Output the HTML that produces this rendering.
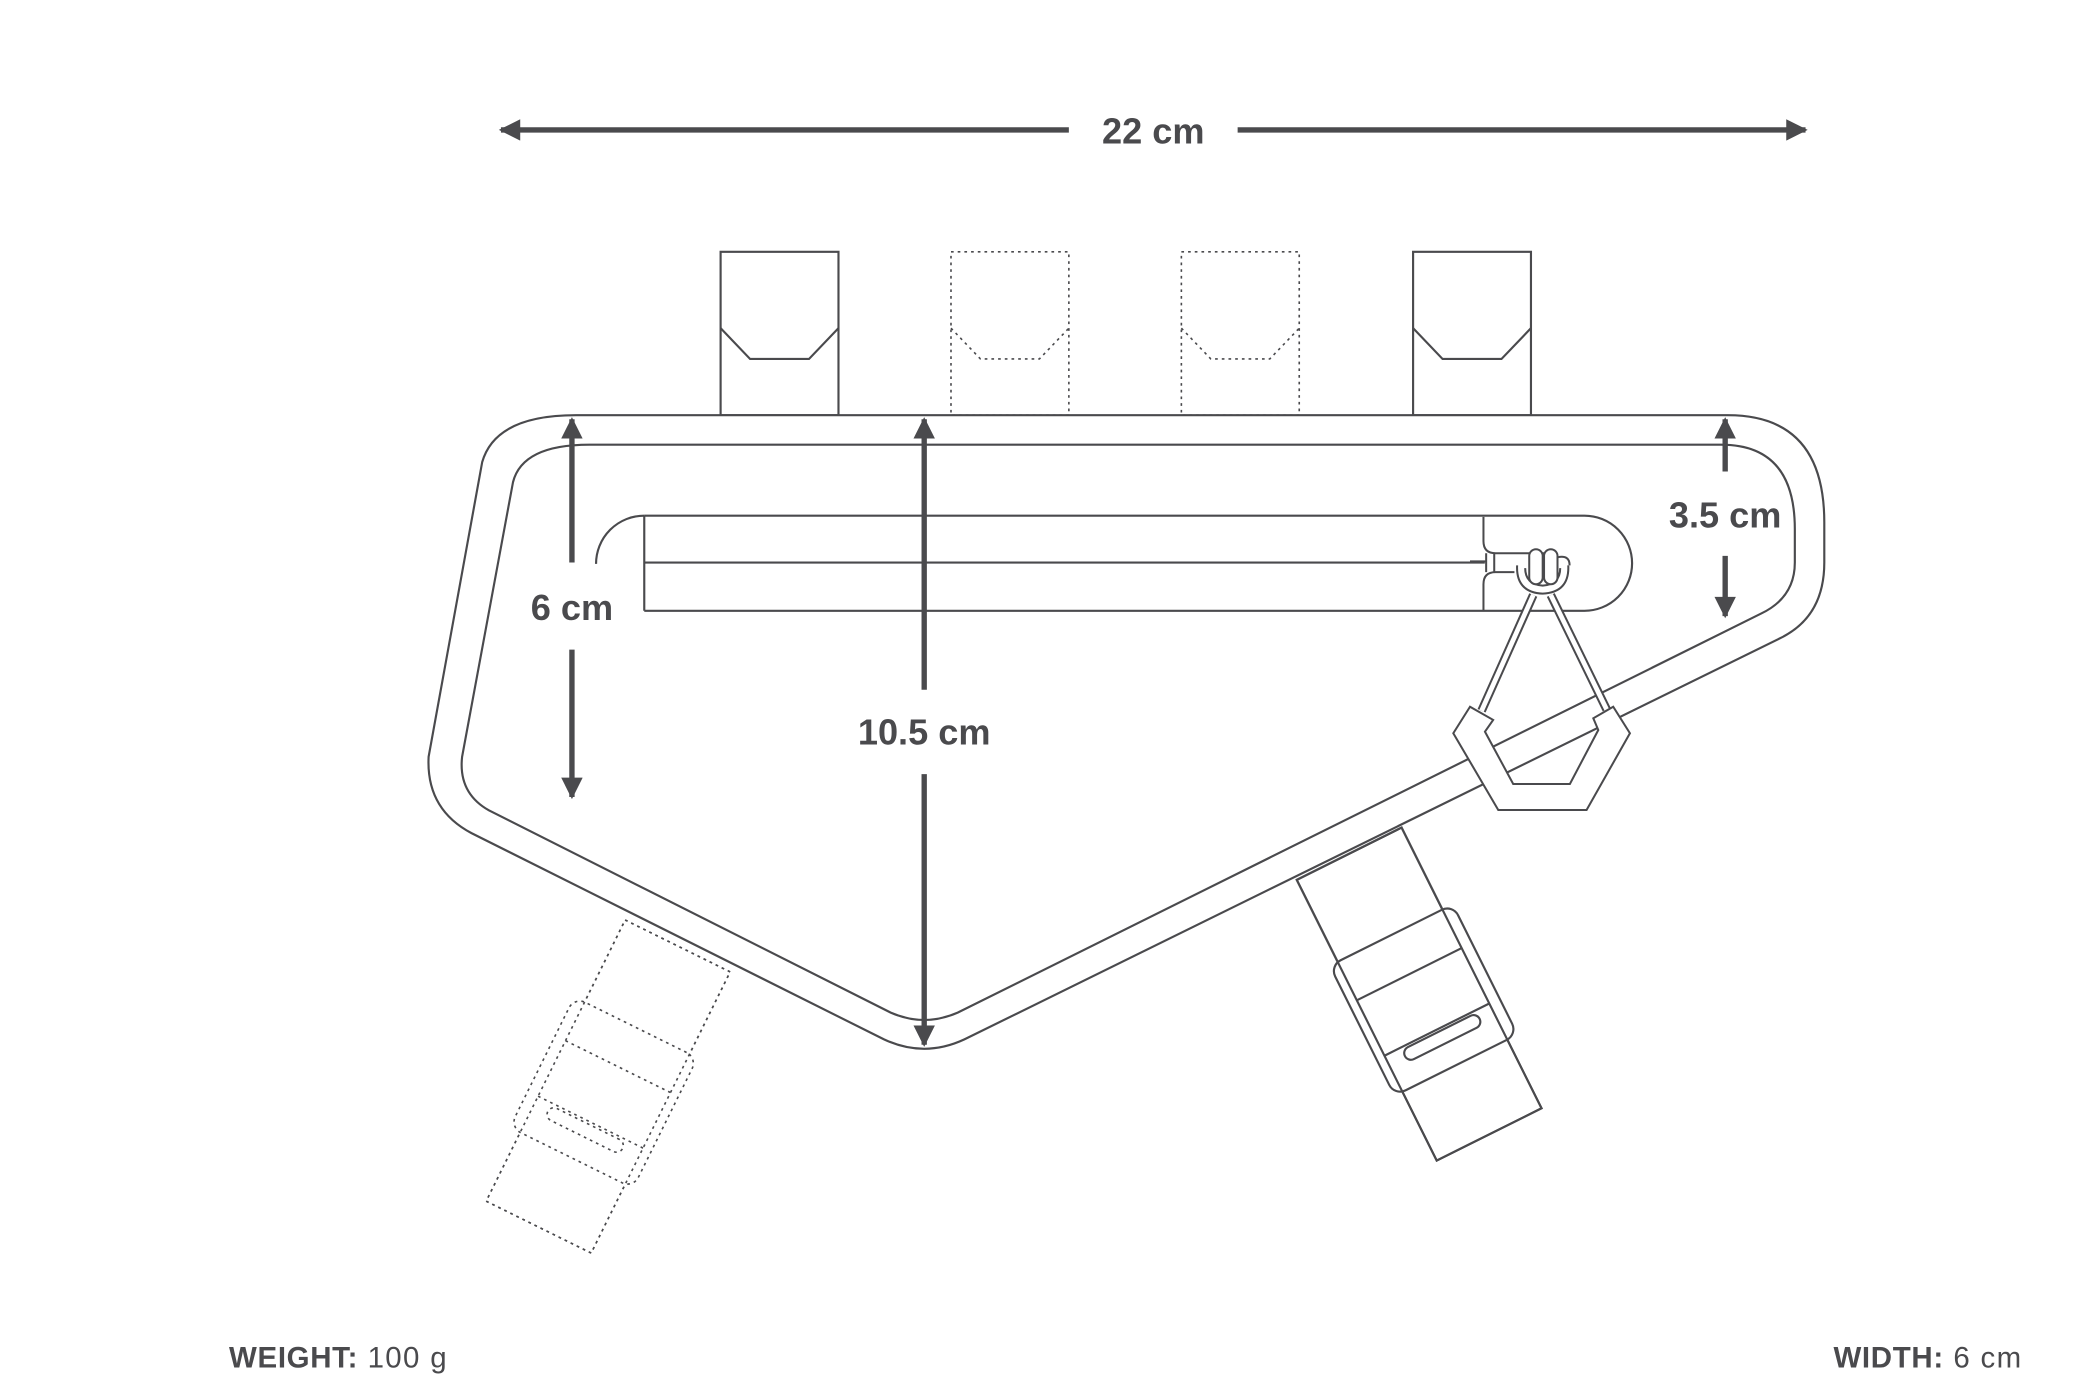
<!DOCTYPE html>
<html><head><meta charset="utf-8"><style>
html,body{margin:0;padding:0;background:#fff;}
svg{display:block;}
</style></head><body>
<svg width="2100" height="1400" viewBox="0 0 1560 1040" xmlns="http://www.w3.org/2000/svg">
<defs>
<marker id="ah" viewBox="0 0 10 10" refX="9" refY="5" markerWidth="5" markerHeight="4" orient="auto-start-reverse" markerUnits="strokeWidth">
<path d="M0,0 L10,5 L0,10 Z" fill="#4a4a4d"/></marker>
<g id="strapR">
<rect x="-43.5" y="-116" width="87" height="233" fill="#fff"/>
<rect x="-50" y="-48" width="102" height="108" rx="9" fill="#fff"/>
<rect x="-43.5" y="-116" width="87" height="233" fill="none"/>
<line x1="-43.5" y1="-16" x2="43.5" y2="-16"/>
<line x1="-43.5" y1="30" x2="43.5" y2="30"/>
<rect x="-30" y="32" width="62" height="10" rx="5" fill="#fff"/>
</g>
</defs>
<g fill="none" stroke="#4a4a4d" stroke-width="1.6">
<g transform="translate(452,806.7) rotate(26.3) scale(-1,1)" stroke-dasharray="2 3" stroke-width="1.2">
<use href="#strapR"/>
</g>
<g transform="translate(1054,738) rotate(-26.5)">
<use href="#strapR"/>
</g>
</g>
<g transform="scale(0.995)">
<g fill="none" stroke="#4a4a4d" stroke-width="1.6">
<rect x="538" y="188" width="88" height="122"/>
<path d="M538,245 L560,268 L604,268 L626,245"/>
<rect x="1055" y="188" width="88" height="122"/>
<path d="M1055,245 L1077,268 L1121,268 L1143,245"/>
<g stroke-dasharray="2 3" stroke-width="1.2">
<rect x="710" y="188" width="88" height="122"/>
<path d="M710,245 L732,268 L776,268 L798,245"/>
<rect x="882" y="188" width="88" height="122"/>
<path d="M882,245 L904,268 L948,268 L970,245"/>
</g>
<path fill="#fff" d="M430,310 L1290,310 Q1362,310 1362,390 L1362,420 Q1362,460 1330,476 L720,776 Q690,790 660,776 L352,622 Q318,604 320,565 L360,345 Q370,310 430,310 Z"/>
<path d="M440,332 L1285,332 Q1340,332 1340,395 L1340,420 Q1340,446 1315,458 L715,756 Q690,767 665,756 L365,605 Q342,592 345,565 L383,360 Q390,332 440,332 Z"/>
<path d="M481,385 L1183,385 A35.5,35.5 0 0 1 1183,456 L481,456"/>
<path d="M481,385 A36,36 0 0 0 445,421"/>
<line x1="481" y1="385" x2="481" y2="456"/>
<line x1="481" y1="420" x2="1110" y2="420"/>
</g>
<g stroke="#4a4a4d" stroke-width="4" marker-end="url(#ah)">
<line x1="798" y1="97" x2="374" y2="97"/>
<line x1="924" y1="97" x2="1348" y2="97"/>
<line x1="427" y1="420" x2="427" y2="313"/>
<line x1="427" y1="485" x2="427" y2="595"/>
<line x1="690" y1="515" x2="690" y2="313"/>
<line x1="690" y1="578" x2="690" y2="780"/>
<line x1="1288" y1="352" x2="1288" y2="313"/>
<line x1="1288" y1="415" x2="1288" y2="460"/>
</g>
<g font-family="Liberation Sans, sans-serif" font-weight="bold" fill="#4a4a4d" font-size="27" text-anchor="middle">
<text x="861" y="107">22 cm</text>
<text x="427" y="463">6 cm</text>
<text x="690" y="556">10.5 cm</text>
<text x="1288" y="394">3.5 cm</text>
</g>
<g font-family="Liberation Sans, sans-serif" fill="#4a4a4d" font-size="22" letter-spacing="1">
<text x="171" y="1021"><tspan font-weight="bold" letter-spacing="0.5">WEIGHT:</tspan> 100 g</text>
<text x="1510" y="1021" text-anchor="end"><tspan font-weight="bold" letter-spacing="0.5">WIDTH:</tspan>  6 cm</text>
</g>
</g>
<g fill="none" stroke="#4a4a4d" stroke-width="1.5">
<path fill="#fff" stroke="none" d="M1103,386 L1160,386 L1160,452 L1103,452 Z"/>
<path d="M1102,384 L1102,402 Q1102,411 1111,411 L1150,411"/>
<path d="M1102,454 L1102,434 Q1102,425 1111,425 L1125,425"/>
<path d="M1092,417 L1104,417 M1104,411 L1104,425 M1110,411 L1110,425"/>
<path d="M1127,420 Q1126,440 1146,441 Q1166,440 1165,420"/>
<path d="M1133,422 Q1133,434 1146,435 Q1159,434 1159,422"/>
<rect x="1136" y="408" width="10" height="26" rx="5" fill="#fff"/>
<rect x="1147" y="408" width="10" height="26" rx="5" fill="#fff"/>
<path d="M1157,414 Q1166,412 1166,420"/>
<path d="M1139,442 L1100.6,528" stroke-width="6.5"/>
<path d="M1139,442 L1100.6,528" stroke="#fff" stroke-width="3.5"/>
<path d="M1152,442 L1193.5,527" stroke-width="6.5"/>
<path d="M1152,442 L1193.5,527" stroke="#fff" stroke-width="3.5"/>
<polygon fill="#fff" points="1092,525 1079.6,544.7 1113,601.7 1178.6,601.7 1210.8,544.7 1198.4,525 1183.6,533.6 1187.3,542.3 1166.2,582.4 1124.1,582.4 1103.1,543.5 1109.2,534.8"/>
</g>
</svg>
</body></html>
